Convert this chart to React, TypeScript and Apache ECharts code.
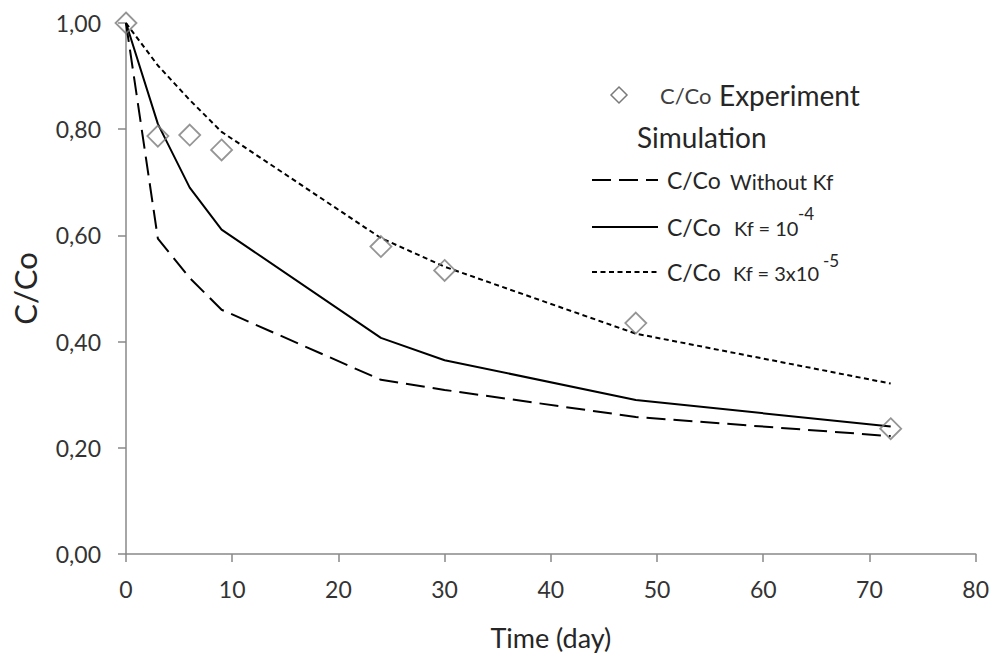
import React, { useEffect, useRef } from "react";
import * as echarts from "echarts";

const expTime = [0, 3, 6, 9, 24, 30, 48, 72];
const expValues = [1.0, 0.787, 0.789, 0.761, 0.579, 0.534, 0.435, 0.236];

const simTime = [0, 3, 6, 9, 24, 30, 48, 72];
const withoutKf = [1.0, 0.594, 0.52, 0.46, 0.328, 0.309, 0.258, 0.222];
const kf1e4 = [1.0, 0.81, 0.69, 0.611, 0.407, 0.365, 0.29, 0.24];
const kf3e5 = [1.0, 0.92, 0.855, 0.795, 0.595, 0.541, 0.415, 0.321];

const xTicks = [0, 10, 20, 30, 40, 50, 60, 70, 80];
const yTicks = [0, 0.2, 0.4, 0.6, 0.8, 1.0];

const FONT = "Lato, 'Open Sans', sans-serif";
const TXT = "#262626";

export default function App() {
  const ref = useRef<HTMLDivElement>(null);
  useEffect(() => {
    if (!ref.current) return;
    const chart = echarts.init(ref.current, undefined, { renderer: "svg" });
    const pair = (xs: number[], ys: number[]) => xs.map((x, i) => [x, ys[i]]);
    const lineSeries = (name: string, ys: number[], type: any) => ({
      name,
      type: "line",
      data: pair(simTime, ys),
      symbol: "none",
      lineStyle: { color: "#000", width: 2, type },
      z: 2,
    });
    chart.setOption({
      animation: false,
      textStyle: { fontFamily: FONT },
      grid: { left: 126, right: 16, top: 23, bottom: 103 },
      xAxis: {
        type: "value",
        min: xTicks[0],
        max: xTicks[xTicks.length - 1],
        interval: 10,
        name: "Time (day)",
        nameLocation: "middle",
        nameGap: 70,
        nameTextStyle: { fontSize: 27, color: TXT, fontFamily: FONT },
        axisLine: { show: true, lineStyle: { color: "#898989", width: 1.5 } },
        axisTick: { show: true, length: 8, lineStyle: { color: "#898989", width: 1.5 } },
        axisLabel: { fontSize: 23, color: "#333", margin: 23, fontFamily: FONT },
        splitLine: { show: false },
      },
      yAxis: {
        type: "value",
        min: yTicks[0],
        max: yTicks[yTicks.length - 1],
        interval: 0.2,
        name: "C/Co",
        nameLocation: "middle",
        nameGap: 86,
        nameRotate: 90,
        nameTextStyle: { fontSize: 31, color: TXT, fontFamily: FONT },
        axisLine: { show: true, lineStyle: { color: "#898989", width: 1.5 } },
        axisTick: { show: true, length: 8, lineStyle: { color: "#898989", width: 1.5 } },
        axisLabel: {
          fontSize: 23,
          color: "#333",
          margin: 25,
          fontFamily: FONT,
          formatter: (v: number) => v.toFixed(2).replace(".", ","),
        },
        splitLine: { show: false },
      },
      series: [
        lineSeries("C/Co Without Kf", withoutKf, [19, 8]),
        lineSeries("C/Co Kf = 10-4", kf1e4, "solid"),
        lineSeries("C/Co Kf = 3x10-5", kf3e5, [5, 3.5]),
        {
          name: "C/Co Experiment",
          type: "scatter",
          data: pair(expTime, expValues),
          symbol: "diamond",
          symbolSize: [21, 21],
          itemStyle: { color: "transparent", borderColor: "#7a7a7a", borderWidth: 1.8 },
          z: 3,
        },
      ],
      graphic: [
        {
          type: "polygon",
          shape: { points: [[619, 87], [627, 95], [619, 103], [611, 95]] },
          style: { fill: "transparent", stroke: "#7a7a7a", lineWidth: 1.5 },
        },
        { type: "text", x: 660, y: 95, style: { text: "C/Co", font: `22px ${FONT}`, fill: "#404040", verticalAlign: "middle" } },
        { type: "text", x: 719, y: 95, style: { text: "Experiment", font: `28px ${FONT}`, fill: TXT, verticalAlign: "middle" } },
        { type: "text", x: 637, y: 137, style: { text: "Simulation", font: `28px ${FONT}`, fill: TXT, verticalAlign: "middle" } },
        { type: "line", shape: { x1: 592, y1: 180, x2: 658, y2: 180 }, style: { stroke: "#000", lineWidth: 2, lineDash: [19, 8] } },
        { type: "text", x: 667, y: 180, style: { text: "C/Co", font: `23px ${FONT}`, fill: TXT, verticalAlign: "middle" } },
        { type: "text", x: 730, y: 181, style: { text: "Without Kf", font: `21px ${FONT}`, fill: TXT, verticalAlign: "middle" } },
        { type: "line", shape: { x1: 592, y1: 227, x2: 658, y2: 227 }, style: { stroke: "#000", lineWidth: 2 } },
        { type: "text", x: 667, y: 227, style: { text: "C/Co", font: `23px ${FONT}`, fill: TXT, verticalAlign: "middle" } },
        { type: "text", x: 734, y: 228, style: { text: "Kf = 10", font: `20px ${FONT}`, fill: TXT, verticalAlign: "middle" } },
        { type: "text", x: 798, y: 213, style: { text: "-4", font: `17px ${FONT}`, fill: TXT, verticalAlign: "middle" } },
        { type: "line", shape: { x1: 592, y1: 272, x2: 658, y2: 272 }, style: { stroke: "#000", lineWidth: 2, lineDash: [5, 3.5] } },
        { type: "text", x: 667, y: 272, style: { text: "C/Co", font: `23px ${FONT}`, fill: TXT, verticalAlign: "middle" } },
        { type: "text", x: 733, y: 273, style: { text: "Kf = 3x10", font: `20px ${FONT}`, fill: TXT, verticalAlign: "middle" } },
        { type: "text", x: 823, y: 260, style: { text: "-5", font: `17px ${FONT}`, fill: TXT, verticalAlign: "middle" } },
      ],
    });
    return () => chart.dispose();
  }, []);
  return <div ref={ref} style={{ width: 992, height: 657, position: "fixed", left: 0, top: 0, background: "#fff" }} />;
}
